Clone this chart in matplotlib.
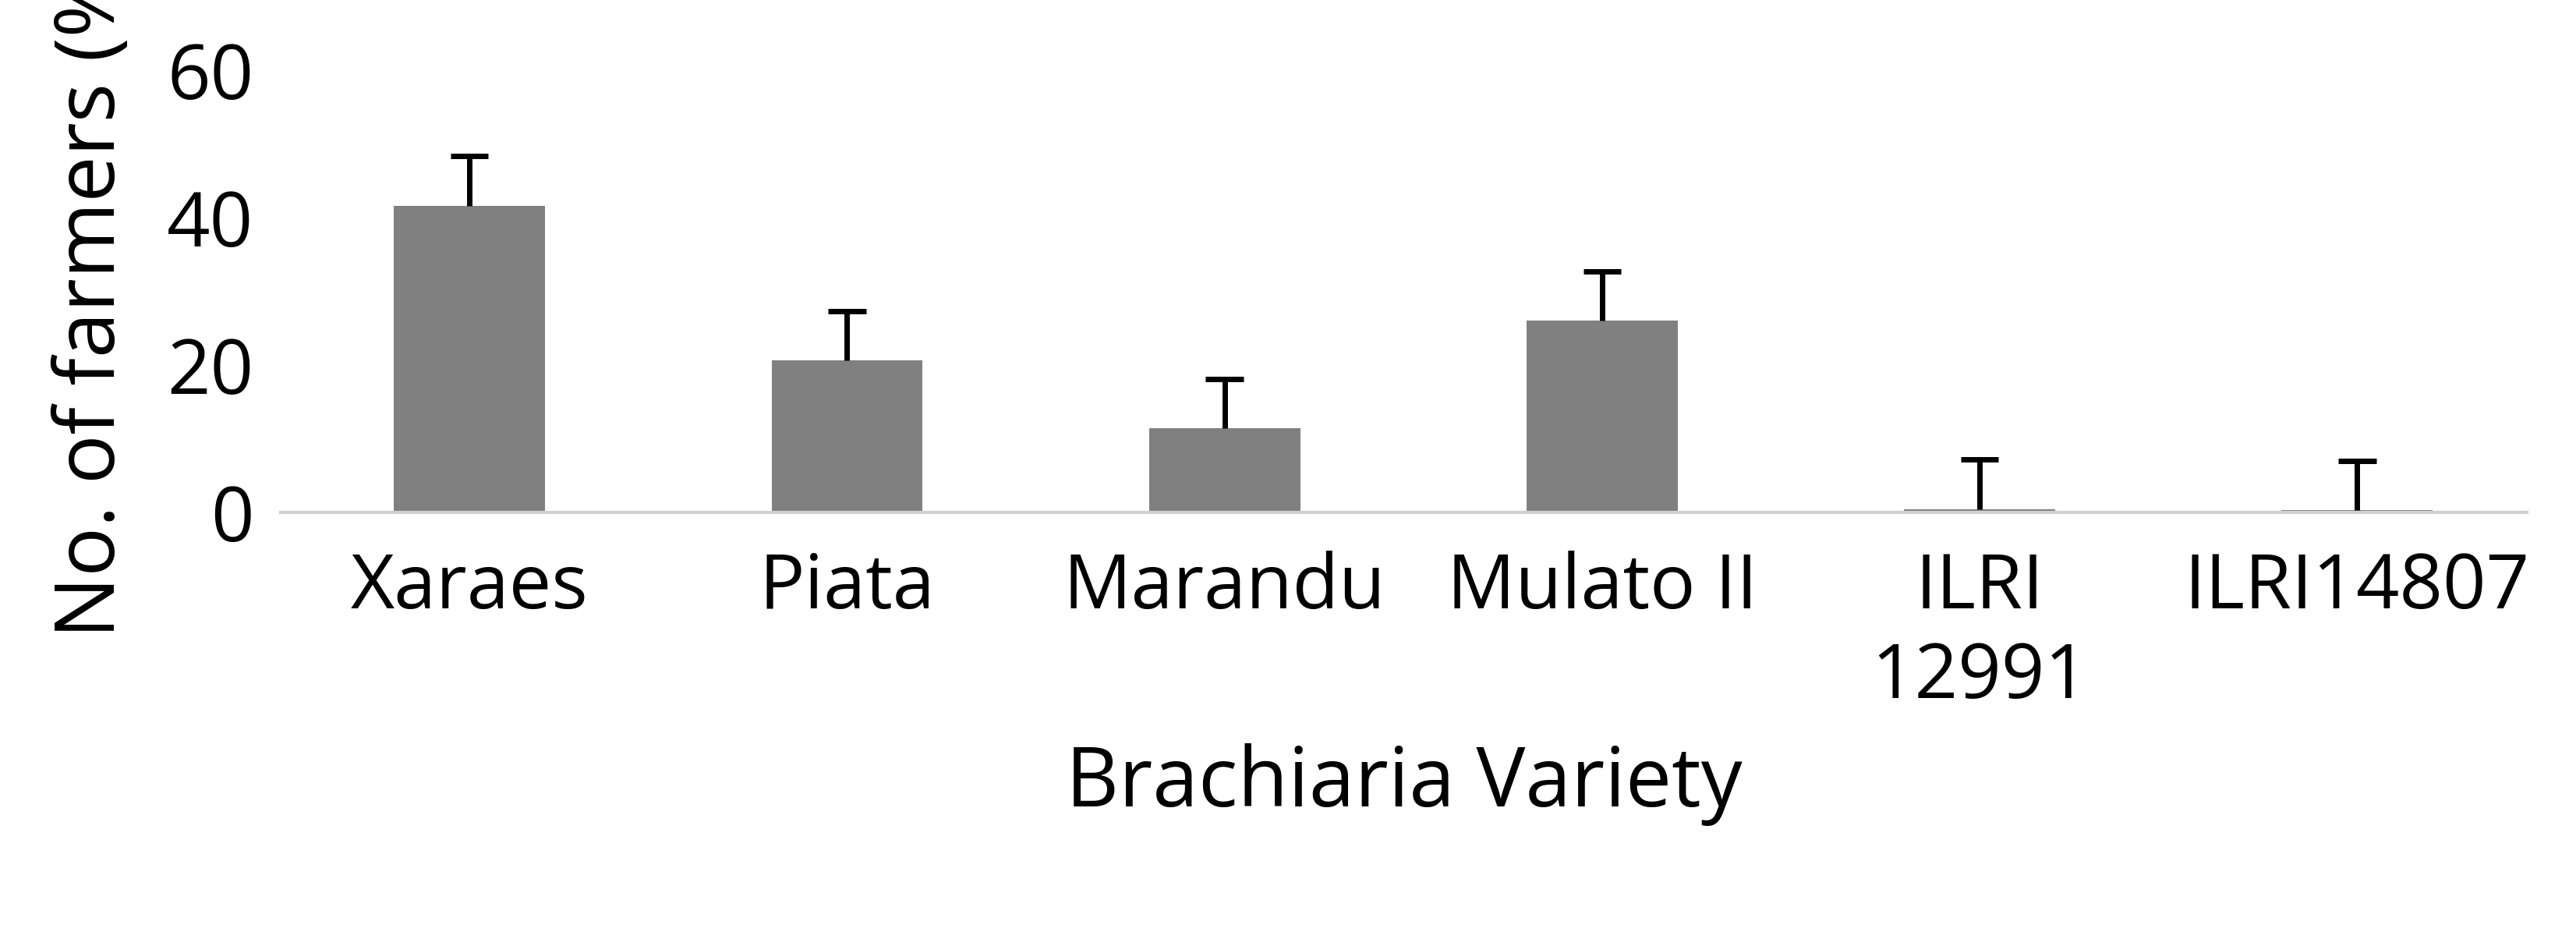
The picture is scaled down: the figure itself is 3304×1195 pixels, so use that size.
import matplotlib
matplotlib.use("Agg")
import matplotlib.pyplot as plt

categories = ["Xaraes", "Piata", "Marandu", "Mulato II", "ILRI\n12991", "ILRI14807"]
values = [41.6, 20.6, 11.4, 26.0, 0.5, 0.3]
errors = [6.7, 6.7, 6.7, 6.7, 6.7, 6.7]
yticks = [0, 20, 40, 60]

plt.rcParams['font.family'] = ['Open Sans', 'DejaVu Sans']
fig = plt.figure(figsize=(33.04, 11.95), dpi=100)
ax = fig.add_axes([0.109, 0.45, 0.872, 0.475])
x = list(range(len(categories)))
ax.bar(x, values, width=0.4, color="#808080", zorder=2)
tops = [v + e for v, e in zip(values, errors)]
ax.vlines(x, values, tops, color="black", linewidth=5, zorder=3)
ax.hlines(tops, [i - 0.05 for i in x], [i + 0.05 for i in x], color="black", linewidth=5, zorder=3)
ax.set_ylim(0, 60)
ax.set_yticks(yticks)
ax.set_xlim(-0.5, 5.45)
ax.set_xticks(x)
ax.set_xticklabels(categories, fontsize=70, linespacing=1.25)
ax.tick_params(axis='y', labelsize=70, length=0, pad=25)
ax.tick_params(axis='x', length=0, pad=35)
for s in ["top", "right", "left"]:
    ax.spines[s].set_visible(False)
ax.spines["bottom"].set_color("#d0d0d0")
ax.spines["bottom"].set_linewidth(3)
ax.set_ylabel("No. of farmers (%)", fontsize=76, labelpad=30)
ax.set_xlabel("Brachiaria Variety", fontsize=76, labelpad=25)
fig.savefig("out.png", dpi=100)
